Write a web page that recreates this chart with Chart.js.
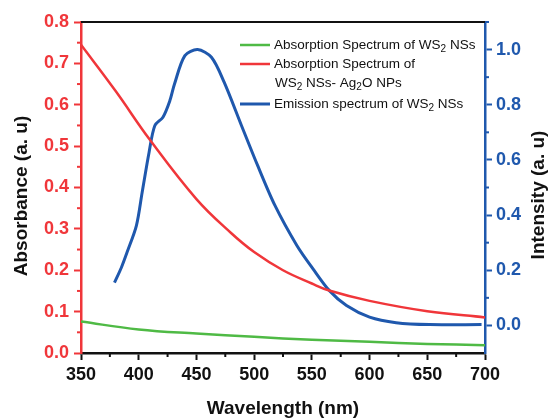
<!DOCTYPE html>
<html>
<head>
<meta charset="utf-8">
<script src="https://cdn.jsdelivr.net/npm/chart.js@4.4.0/dist/chart.umd.min.js"></script>
<style>
body{margin:0;background:#fff;}
#wrap{width:550px;height:420px;position:relative;}
</style>
</head>
<body>
<div id="wrap"><canvas id="myChart"></canvas></div>
<script>

// absorption of WS2 NSs (green)
const greenWl=[350,400,450,500,550,600,650,700];
const greenAbs=[0.076,0.057,0.047,0.039,0.032,0.027,0.022,0.019];

// absorption of WS2 NSs - Ag2O NPs (red)
const redWl=[350,380,410,450,480,500,525,550,565,600,650,700];
const redAbs=[0.745,0.633,0.514,0.372,0.290,0.244,0.200,0.168,0.151,0.126,0.101,0.086];

// emission of WS2 NSs (blue, right axis)
const blueWl=[379,385,390,398,403,409,414,421,427,431,440,451,463,474,489,503,518,537,551,565,580,600,623,652,697];
const blueInt=[0.155,0.21,0.266,0.362,0.483,0.628,0.725,0.755,0.815,0.875,0.978,1.0,0.972,0.882,0.725,0.58,0.435,0.29,0.205,0.127,0.072,0.030,0.010,0.003,0.003];

const xTicks=[350,400,450,500,550,600,650,700];
const xMinor=[375,425,475,525,575,625,675];
const absTicks=[0,0.1,0.2,0.3,0.4,0.5,0.6,0.7,0.8];
const absMinor=[0.05,0.15,0.25,0.35,0.45,0.55,0.65,0.75];
const intTicks=[0,0.2,0.4,0.6,0.8,1.0];
const intMinor=[0.1,0.3,0.5,0.7,0.9,1.1];

const legendNames=[
  ["Absorption Spectrum of WS₂ NSs"],
  ["Absorption Spectrum of","WS₂ NSs- Ag₂O NPs"],
  ["Emission spectrum of WS₂ NSs"]
];

const RED='#f0363a';
const BLUE='#1f58ad';
const GREEN='#4fba45';
const FONT='"Liberation Sans", Arial, sans-serif';

function toPoints(xs,ys){
  let pts=[];
  xs.forEach((x,i)=>{ pts.push({x:x,y:ys[i]}); });
  return pts;
}

// draws text, with ₂ as a small lowered 2
function drawRich(ctx,text,x,y){
  let cx=x;
  for(const ch of text){
    if(ch=='₂'){
      ctx.font='10px '+FONT;
      ctx.fillText('2',cx,y+4);
      cx+=ctx.measureText('2').width;
    }else{
      ctx.font='13.5px '+FONT;
      ctx.fillText(ch,cx,y);
      cx+=ctx.measureText(ch).width;
    }
  }
}

const extras={
  id:'extras',
  afterDraw(chart){
    const ctx=chart.ctx;
    const area=chart.chartArea;
    const sx=chart.scales.x, sy=chart.scales.y, sy2=chart.scales.y2;
    ctx.save();

    // top border
    ctx.strokeStyle='#111';
    ctx.lineWidth=2;
    ctx.beginPath();
    ctx.moveTo(area.left,area.top);
    ctx.lineTo(area.right,area.top);
    ctx.stroke();

    // minor ticks
    ctx.lineWidth=2;
    ctx.strokeStyle='#111';
    xMinor.forEach(v=>{
      let px=sx.getPixelForValue(v);
      ctx.beginPath();ctx.moveTo(px,area.bottom);ctx.lineTo(px,area.bottom+4);ctx.stroke();
    });
    ctx.strokeStyle=RED;
    absMinor.forEach(v=>{
      let py=sy.getPixelForValue(v);
      ctx.beginPath();ctx.moveTo(area.left,py);ctx.lineTo(area.left-4,py);ctx.stroke();
    });
    ctx.strokeStyle=BLUE;
    intMinor.forEach(v=>{
      let py=sy2.getPixelForValue(v);
      ctx.beginPath();ctx.moveTo(area.right,py);ctx.lineTo(area.right+4,py);ctx.stroke();
    });

    // axis titles on the two sides, reading upward
    ctx.fillStyle='#111';
    ctx.font='bold 19px '+FONT;
    ctx.textAlign='center';
    ctx.textBaseline='middle';
    ctx.save();
    ctx.translate(22,196);
    ctx.rotate(-Math.PI/2);
    ctx.fillText('Absorbance (a. u)',0,0);
    ctx.restore();
    ctx.translate(539,195);
    ctx.rotate(-Math.PI/2);
    ctx.fillText('Intensity (a. u)',0,0);
    ctx.restore();

    // legend
    ctx.save();
    ctx.textAlign='left';
    ctx.textBaseline='middle';
    ctx.fillStyle='#111';
    const colors=[GREEN,RED,BLUE];
    const widths=[2.5,2.5,3];
    const rowsY=[45,64,104];
    legendNames.forEach((lines,i)=>{
      ctx.strokeStyle=colors[i];
      ctx.lineWidth=widths[i];
      ctx.beginPath();
      ctx.moveTo(240,rowsY[i]);
      ctx.lineTo(270,rowsY[i]);
      ctx.stroke();
      lines.forEach((t,j)=>{
        drawRich(ctx,t,j==0?274:275,rowsY[i]+j*19);
      });
    });
    ctx.restore();
  }
};

new Chart(document.getElementById('myChart'),{
  type:'line',
  data:{
    datasets:[
      {
        label:'Absorption Spectrum of WS2 NSs',
        data:toPoints(greenWl,greenAbs),
        borderColor:GREEN,
        borderWidth:2.5,
        yAxisID:'y',
        pointRadius:0,
        tension:0.4
      },
      {
        label:'Absorption Spectrum of WS2 NSs- Ag2O NPs',
        data:toPoints(redWl,redAbs),
        borderColor:RED,
        borderWidth:2.5,
        yAxisID:'y',
        pointRadius:0,
        tension:0.4
      },
      {
        label:'Emission spectrum of WS2 NSs',
        data:toPoints(blueWl,blueInt),
        borderColor:BLUE,
        borderWidth:3,
        yAxisID:'y2',
        pointRadius:0,
        tension:0.3
      }
    ]
  },
  options:{
    responsive:true,
    maintainAspectRatio:false,
    animation:false,
    layout:{padding:{top:22,left:0,right:0,bottom:0}},
    plugins:{legend:{display:false},tooltip:{enabled:false}},
    scales:{
      x:{
        type:'linear',
        min:350,max:700,
        afterFit:(s)=>{s.height=67;},
        afterBuildTicks:(s)=>{s.ticks=xTicks.map(v=>({value:v}));},
        border:{color:'#111',width:2.5},
        grid:{drawOnChartArea:false,tickLength:7,tickColor:'#111',tickWidth:2},
        ticks:{color:'#111',font:{family:FONT,size:18,weight:'bold'},padding:4,maxRotation:0,
          callback:(v)=>String(v)},
        title:{display:true,text:'Wavelength (nm)',color:'#111',font:{family:FONT,size:19,weight:'bold'},padding:{top:4,bottom:0}}
      },
      y:{
        position:'left',
        min:0,max:0.8,
        afterFit:(s)=>{s.width=81;},
        afterBuildTicks:(s)=>{s.ticks=absTicks.map(v=>({value:v}));},
        border:{color:RED,width:2.5},
        grid:{drawOnChartArea:false,tickLength:7,tickColor:RED,tickWidth:2},
        ticks:{color:RED,font:{family:FONT,size:18,weight:'bold'},padding:5,
          callback:(v)=>Number(v).toFixed(1)}
      },
      y2:{
        position:'right',
        min:-0.1,max:1.1,
        afterFit:(s)=>{s.width=65;},
        afterBuildTicks:(s)=>{s.ticks=intTicks.map(v=>({value:v}));},
        border:{color:BLUE,width:2.5},
        grid:{drawOnChartArea:false,tickLength:7,tickColor:BLUE,tickWidth:2},
        ticks:{color:BLUE,font:{family:FONT,size:18,weight:'bold'},padding:4,
          callback:(v)=>Number(v).toFixed(1)}
      }
    }
  },
  plugins:[extras]
});

</script>
</body>
</html>
